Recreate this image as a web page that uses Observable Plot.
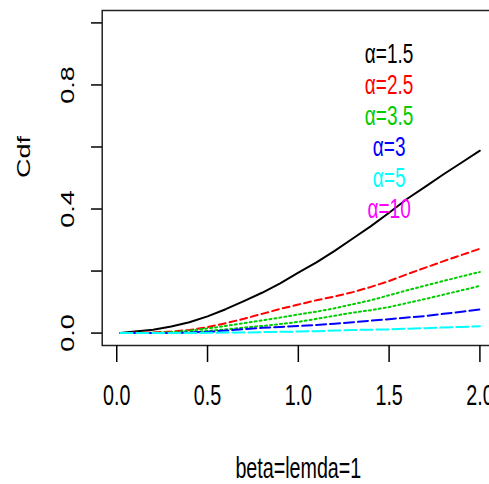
<!DOCTYPE html>
<html><head><meta charset="utf-8">
<script src="https://cdn.jsdelivr.net/npm/d3@7"></script>
<script src="https://cdn.jsdelivr.net/npm/@observablehq/plot@0.6"></script>
<style>body{margin:0;background:#fff;}</style>
</head><body><div id="chart"></div>
<script>
const xs = [0.02,0.1,0.2,0.3,0.4,0.5,0.6,0.7,0.8,0.9,1.0,1.1,1.2,1.3,1.4,1.5,1.6,1.7,1.8,1.9,2.0];
const cdfAlpha15 = [0,0.005,0.011,0.021,0.035,0.054,0.077,0.103,0.13,0.16,0.195,0.228,0.265,0.305,0.345,0.388,0.433,0.472,0.512,0.55,0.588];
const cdfAlpha25 = [0,0.001,0.002,0.005,0.01,0.019,0.032,0.046,0.062,0.078,0.092,0.106,0.118,0.132,0.149,0.168,0.19,0.211,0.232,0.252,0.272];
const cdfAlpha35a = [0,0,0.001,0.003,0.008,0.015,0.023,0.032,0.041,0.05,0.06,0.069,0.08,0.093,0.106,0.122,0.138,0.153,0.168,0.183,0.197];
const cdfAlpha35b = [0,0,0,0.001,0.003,0.007,0.012,0.018,0.023,0.029,0.036,0.046,0.056,0.066,0.074,0.084,0.097,0.11,0.124,0.138,0.152];
const cdfAlpha3 = [0,0,0,0,0.002,0.004,0.008,0.013,0.017,0.02,0.023,0.026,0.03,0.035,0.04,0.045,0.05,0.055,0.062,0.069,0.076];
const cdfAlpha5 = [0,0,0,0,0,0.001,0.002,0.002,0.003,0.004,0.005,0.006,0.008,0.01,0.011,0.012,0.014,0.016,0.018,0.02,0.022];

const legendLabels = ["α=1.5","α=2.5","α=3.5","α=3","α=5","α=10"];
const legendColors = ["black","red","#00CD00","blue","cyan","magenta"];
const legendY = [0.9,0.8,0.7,0.6,0.5,0.4];
const legendX = 1.5;
const xTicks = [0,0.5,1,1.5,2];
const yTicks = [0,0.2,0.4,0.6,0.8,1];
const yLabelTicks = [0,0.4,0.8];
const xTitle = "beta=lemda=1";
const yTitle = "Cdf";

const series = [
  {values: cdfAlpha15, color: "black", dash: null},
  {values: cdfAlpha25, color: "red", dash: "7,4"},
  {values: cdfAlpha35a, color: "#00CD00", dash: "2,3"},
  {values: cdfAlpha35b, color: "#00CD00", dash: "2,3"},
  {values: cdfAlpha3, color: "blue", dash: "10,4"},
  {values: cdfAlpha5, color: "cyan", dash: "12,4"}
];

const W = 720, H = 484;
const lineMarks = series.map(s => Plot.line(xs.map((x,i)=>({x, y: s.values[i]})), {
  x: "x", y: "y", stroke: s.color, strokeWidth: 2, strokeDasharray: s.dash ?? undefined
}));

const plot = Plot.plot({
  width: W, height: H,
  marginLeft: 150, marginRight: -7.5, marginTop: 10, marginBottom: 139,
  x: {domain: [-0.08, 2.08]},
  y: {domain: [-0.04, 1.04]},
  style: {fontFamily: "'Liberation Sans', Arial, sans-serif", fontSize: "28px", color: "#000", background: "#fff"},
  marks: [
    Plot.frame({stroke: "#222", strokeWidth: 1.5}),
    Plot.axisX({ticks: xTicks, tickSize: 17, tickPadding: 22, fontSize: 29, tickFormat: d3.format(".1f"), label: null, strokeWidth: 1.5}),
    Plot.axisY({ticks: yTicks, tickSize: 16, tickFormat: () => "", label: null, strokeWidth: 1.5}),
    Plot.text(yLabelTicks, {y: d => d, text: d => d3.format(".1f")(d), frameAnchor: "left", dx: -50, rotate: -90, fontSize: 27, textAnchor: "middle", lineAnchor: "middle", fill: "#000"}),
    Plot.text([yTitle], {text: d => d, frameAnchor: "left", dx: -115, rotate: -90, fontSize: 27, lineAnchor: "middle", fill: "#000"}),
    Plot.text([xTitle], {x: [1], text: d => d, frameAnchor: "bottom", dy: 123, fontSize: 29, lineAnchor: "middle", fill: "#000"}),
    ...lineMarks,
    Plot.text(legendLabels, {x: legendLabels.map(() => legendX), y: legendY, text: d => d, fill: legendLabels.map((d,i)=>legendColors[i]), fontSize: 28, lineAnchor: "middle"})
  ]
});

plot.setAttribute("width", 489);
plot.setAttribute("preserveAspectRatio", "none");
plot.style.width = "489px";
plot.style.height = "484px";
plot.style.maxWidth = "none";
plot.querySelectorAll("path, line, rect").forEach(el => el.setAttribute("vector-effect", "non-scaling-stroke"));
document.getElementById("chart").appendChild(plot);
</script>
</body></html>
